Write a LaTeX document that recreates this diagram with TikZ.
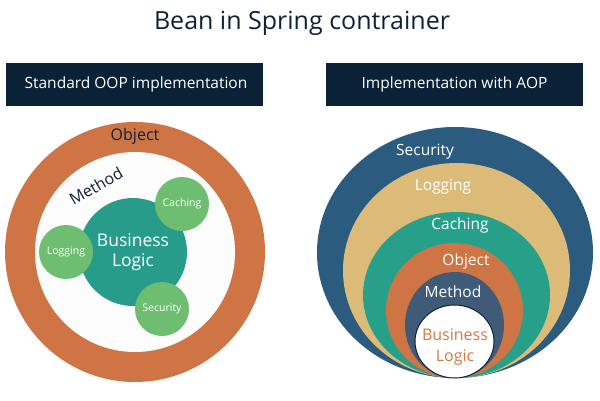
\documentclass[tikz,border=0pt]{standalone}
\usepackage{fontspec}
\setmainfont{Open Sans}
\definecolor{navyhead}{HTML}{0B2137}
\definecolor{txtnavy}{HTML}{0D2238}
\definecolor{ringorange}{HTML}{CF7444}
\definecolor{tealbl}{HTML}{289C8A}
\definecolor{greenc}{HTML}{6DBE70}
\definecolor{secblue}{HTML}{2C5B80}
\definecolor{logtan}{HTML}{DBBB77}
\definecolor{cachteal}{HTML}{27A08A}
\definecolor{methmix}{HTML}{3F5B78}
\definecolor{bltext}{HTML}{D07A45}
\tikzset{
  headbox/.style={fill=navyhead, draw=none},
  headtxt/.style={text=white, font=\fontsize{15.5}{18}\selectfont},
  smallc/.style={circle, fill=greenc, minimum size=54pt, inner sep=0pt, text=white, font=\fontsize{10.5}{12}\selectfont},
  ringlbl/.style={text=white, font=\fontsize{15.5}{18}\selectfont},
}
\begin{document}
\begin{tikzpicture}[x=1pt,y=-1pt]
\useasboundingbox (0,0) rectangle (600,400);
% title
\node[text=txtnavy, font=\fontsize{25}{30}\selectfont] (title) at (302,23) {Bean in Spring contrainer};
% headers
\fill[headbox] (6,63) rectangle (263,106);
\node[headtxt] (h1) at (136,84.5) {Standard OOP implementation};
\fill[headbox] (326,63) rectangle (583,106);
\node[headtxt] (h2) at (454.5,84.5) {Implementation with AOP};
% left diagram
\fill[ringorange] (135,252) circle (130);
\fill[white!98!gray] (135,252) circle (100);
\node[text=txtnavy, font=\fontsize{16}{19}\selectfont] (obj) at (135,136) {Object};
\node[text=txtnavy, font=\fontsize{16}{19}\selectfont, rotate=30, inner sep=0pt] (meth) at (96,186) {Method};
\node[circle, fill=tealbl, minimum size=108pt, inner sep=0pt, text=white, align=center, font=\fontsize{17.5}{20}\selectfont] (bl) at (133,252) {Business\\Logic};
\node[smallc] (cach) at (182,204) {Caching};
\node[smallc] (logg) at (66,252) {Logging};
\node[smallc] (secu) at (162,309) {Security};
% right diagram
\fill[secblue] (455,252.5) ellipse (138 and 125.5);
\fill[logtan] (456.5,270.5) ellipse (113.5 and 107.5);
\fill[cachteal] (456.5,295) ellipse (93.5 and 83);
\fill[ringorange] (454.5,310.5) ellipse (68.5 and 67.5);
\fill[methmix] (454.5,325) ellipse (49.5 and 53);
\draw[fill=white, draw=txtnavy, line width=1pt] (454.5,341.5) ellipse (39.5 and 36.5);
\node[ringlbl] (rsec) at (425,152) {Security};
\node[ringlbl] (rlog) at (443,187) {Logging};
\node[ringlbl] (rcach) at (460,225) {Caching};
\node[ringlbl] (robj) at (466,261) {Object};
\node[ringlbl] (rmeth) at (453,292) {Method};
\node[text=bltext, align=center, font=\fontsize{16}{21}\selectfont] (rbl) at (455,347) {Business\\Logic};
\end{tikzpicture}
\end{document}
